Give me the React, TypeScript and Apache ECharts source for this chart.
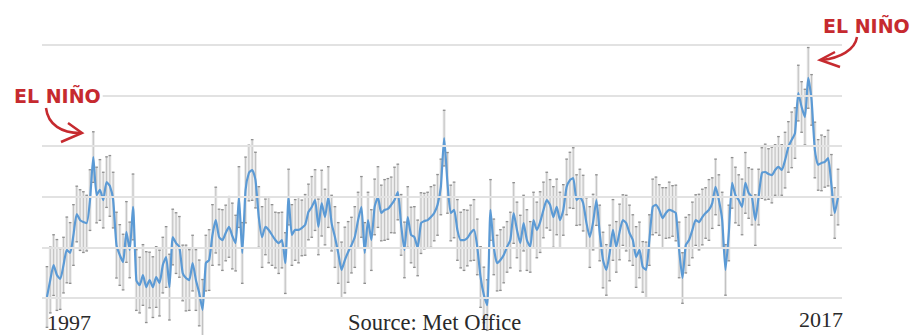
import React, { useEffect, useRef } from "react";
import * as echarts from "echarts";

// Monthly global temperature anomaly (°C), Jan 1997 .. Dec 2016
const anomaly: number[] = [
  0.204, 0.271, 0.330, 0.291, 0.275, 0.330, 0.390, 0.378, 0.449, 0.532, 0.508, 0.500,
  0.496, 0.587, 0.757, 0.607, 0.627, 0.587, 0.658, 0.643, 0.587, 0.409, 0.370, 0.342,
  0.461, 0.390, 0.560, 0.271, 0.251, 0.291, 0.243, 0.271, 0.243, 0.283, 0.259, 0.330,
  0.362, 0.243, 0.441, 0.417, 0.402, 0.299, 0.279, 0.271, 0.338, 0.271, 0.220, 0.153,
  0.338, 0.350, 0.449, 0.508, 0.441, 0.429, 0.457, 0.481, 0.445, 0.417, 0.599, 0.378,
  0.627, 0.694, 0.706, 0.666, 0.520, 0.441, 0.481, 0.469, 0.449, 0.429, 0.417, 0.429,
  0.338, 0.599, 0.449, 0.469, 0.469, 0.477, 0.489, 0.540, 0.560, 0.587, 0.481, 0.575,
  0.520, 0.599, 0.496, 0.441, 0.378, 0.311, 0.350, 0.382, 0.409, 0.441, 0.508, 0.560,
  0.378, 0.508, 0.429, 0.560, 0.599, 0.536, 0.548, 0.552, 0.568, 0.587, 0.619, 0.489,
  0.390, 0.520, 0.449, 0.441, 0.398, 0.496, 0.504, 0.508, 0.520, 0.536, 0.568, 0.639,
  0.832, 0.655, 0.536, 0.548, 0.469, 0.429, 0.429, 0.437, 0.457, 0.469, 0.402, 0.283,
  0.212, 0.172, 0.548, 0.402, 0.338, 0.350, 0.370, 0.402, 0.429, 0.536, 0.469, 0.417,
  0.496, 0.429, 0.402, 0.508, 0.469, 0.500, 0.548, 0.587, 0.568, 0.520, 0.560, 0.508,
  0.548, 0.639, 0.666, 0.674, 0.587, 0.599, 0.575, 0.496, 0.441, 0.500, 0.587, 0.457,
  0.350, 0.311, 0.378, 0.469, 0.402, 0.461, 0.508, 0.496, 0.457, 0.429, 0.362, 0.390,
  0.323, 0.311, 0.429, 0.560, 0.568, 0.548, 0.516, 0.536, 0.548, 0.544, 0.536, 0.390,
  0.279, 0.409, 0.429, 0.469, 0.508, 0.500, 0.520, 0.536, 0.548, 0.575, 0.639, 0.587,
  0.508, 0.311, 0.457, 0.655, 0.607, 0.587, 0.560, 0.655, 0.615, 0.599, 0.508, 0.599,
  0.694, 0.698, 0.690, 0.686, 0.706, 0.718, 0.706, 0.745, 0.797, 0.825, 0.852, 1.010,
  0.955, 0.915, 1.070, 0.983, 0.785, 0.726, 0.734, 0.738, 0.753, 0.647, 0.536, 0.599,
];

// Half-width of the uncertainty bar (°C) per month
const uncertainty: number[] = [
  0.12, 0.13, 0.12, 0.14, 0.12, 0.11, 0.13, 0.12, 0.12, 0.11, 0.12, 0.12,
  0.11, 0.12, 0.10, 0.11, 0.12, 0.11, 0.10, 0.12, 0.11, 0.13, 0.12, 0.11,
  0.12, 0.11, 0.13, 0.12, 0.11, 0.12, 0.14, 0.11, 0.12, 0.12, 0.13, 0.11,
  0.12, 0.13, 0.11, 0.12, 0.12, 0.11, 0.13, 0.12, 0.11, 0.12, 0.13, 0.12,
  0.11, 0.12, 0.12, 0.13, 0.11, 0.12, 0.11, 0.12, 0.13, 0.11, 0.12, 0.12,
  0.13, 0.11, 0.12, 0.11, 0.12, 0.12, 0.11, 0.13, 0.12, 0.11, 0.12, 0.11,
  0.12, 0.11, 0.12, 0.12, 0.13, 0.11, 0.12, 0.11, 0.12, 0.12, 0.11, 0.13,
  0.11, 0.12, 0.11, 0.12, 0.12, 0.11, 0.13, 0.12, 0.11, 0.12, 0.11, 0.12,
  0.12, 0.11, 0.12, 0.11, 0.12, 0.11, 0.12, 0.12, 0.11, 0.13, 0.11, 0.12,
  0.11, 0.12, 0.11, 0.12, 0.11, 0.12, 0.11, 0.11, 0.12, 0.11, 0.12, 0.11,
  0.11, 0.12, 0.11, 0.11, 0.12, 0.11, 0.12, 0.11, 0.11, 0.12, 0.11, 0.12,
  0.11, 0.10, 0.12, 0.11, 0.11, 0.12, 0.11, 0.10, 0.11, 0.12, 0.11, 0.11,
  0.11, 0.12, 0.10, 0.11, 0.11, 0.12, 0.11, 0.11, 0.10, 0.12, 0.11, 0.11,
  0.10, 0.11, 0.11, 0.12, 0.10, 0.11, 0.11, 0.10, 0.12, 0.11, 0.10, 0.11,
  0.11, 0.10, 0.11, 0.12, 0.10, 0.11, 0.10, 0.11, 0.11, 0.10, 0.12, 0.11,
  0.10, 0.11, 0.10, 0.11, 0.11, 0.10, 0.12, 0.10, 0.11, 0.10, 0.11, 0.11,
  0.10, 0.11, 0.10, 0.11, 0.10, 0.11, 0.11, 0.10, 0.12, 0.10, 0.11, 0.10,
  0.11, 0.10, 0.11, 0.10, 0.11, 0.10, 0.11, 0.12, 0.10, 0.11, 0.10, 0.11,
  0.10, 0.11, 0.10, 0.11, 0.10, 0.12, 0.10, 0.11, 0.10, 0.11, 0.10, 0.11,
  0.10, 0.11, 0.12, 0.10, 0.11, 0.10, 0.11, 0.10, 0.11, 0.12, 0.10, 0.11,
];

// Horizontal reference lines (°C)
const gridValues: number[] = [0.2, 0.4, 0.6, 0.8, 1.0, 1.2];
const yearLabels: string[] = ["1997", "2017"];
const sourceText = "Source: Met Office";
const annotationText = "EL NIÑO";

const RED = "#c62a2f";

export default function App() {
  const ref = useRef<HTMLDivElement>(null);

  useEffect(() => {
    if (!ref.current) return;
    const chart = echarts.init(ref.current, undefined, { renderer: "svg" });

    const lineData = anomaly.map((v, i) => [i, v]);
    const barData = anomaly.map((v, i) => [i, v - uncertainty[i], v + uncertainty[i]]);

    const serif = "'Liberation Serif', 'DejaVu Serif', serif";
    const hand = "'DejaVu Sans', 'Noto Sans', sans-serif";

    chart.setOption({
      animation: false,
      backgroundColor: "#ffffff",
      grid: { left: 42, right: 71, top: 0, bottom: 0 },
      xAxis: {
        type: "value",
        min: -1.5,
        max: 240.2,
        show: false,
        splitLine: { show: false },
      },
      yAxis: {
        type: "value",
        min: 0.05375,
        max: 1.37787,
        show: false,
        splitLine: { show: false },
      },
      series: [
        {
          type: "line",
          data: lineData,
          z: 1,
          symbol: "none",
          silent: true,
          lineStyle: { opacity: 0 },
          markLine: {
            silent: true,
            symbol: "none",
            label: { show: false },
            lineStyle: { color: "#e2e2e2", width: 2, type: "solid" },
            data: gridValues.map((v) => ({ yAxis: v })),
          },
        },
        {
          type: "custom",
          data: barData,
          z: 2,
          renderItem: (_params: any, api: any) => {
            const lo = api.coord([api.value(0), api.value(1)]);
            const hi = api.coord([api.value(0), api.value(2)]);
            const x = lo[0];
            return {
              type: "group",
              children: [
                {
                  type: "rect",
                  shape: { x: x - 1.5, y: hi[1], width: 3, height: lo[1] - hi[1] },
                  style: { fill: "#e8e8e8" },
                },
                {
                  type: "line",
                  shape: { x1: x, y1: hi[1], x2: x, y2: lo[1] },
                  style: { stroke: "#c2c2c2", lineWidth: 1 },
                },
                {
                  type: "line",
                  shape: { x1: x - 1.3, y1: hi[1], x2: x + 1.3, y2: hi[1] },
                  style: { stroke: "#8f8f8f", lineWidth: 1.3 },
                },
                {
                  type: "line",
                  shape: { x1: x - 1.3, y1: lo[1], x2: x + 1.3, y2: lo[1] },
                  style: { stroke: "#8f8f8f", lineWidth: 1.3 },
                },
              ],
            };
          },
        },
        {
          type: "line",
          data: lineData,
          z: 3,
          symbol: "none",
          smooth: 0.2,
          lineStyle: { color: "#5b9ad5", width: 2.2 },
        },
      ],
      graphic: [
        {
          type: "text",
          z: 10,
          style: {
            text: yearLabels[0], x: 47, y: 322, font: `22px ${serif}`,
            fill: "#2a2a2a", align: "left", verticalAlign: "middle",
          },
        },
        {
          type: "text",
          z: 10,
          style: {
            text: yearLabels[1], x: 843, y: 319, font: `22px ${serif}`,
            fill: "#2a2a2a", align: "right", verticalAlign: "middle",
          },
        },
        {
          type: "text",
          z: 10,
          style: {
            text: sourceText, x: 348, y: 322, font: `22.5px ${serif}`,
            fill: "#2a2a2a", align: "left", verticalAlign: "middle",
          },
        },
        {
          type: "text",
          z: 10,
          style: {
            text: annotationText, x: 12, y: 96, font: `bold 19px ${hand}`,
            fill: RED, align: "left", verticalAlign: "middle",
            backgroundColor: "#ffffff", padding: [3, 2, 3, 2],
          },
        },
        {
          type: "text",
          z: 10,
          style: {
            text: annotationText, x: 823, y: 26, font: `bold 19px ${hand}`,
            fill: RED, align: "left", verticalAlign: "middle",
          },
        },
        {
          type: "bezierCurve",
          z: 10,
          shape: { x1: 46, y1: 108, cpx1: 48, cpy1: 125, cpx2: 62, cpy2: 133, x2: 80, y2: 133 },
          style: { stroke: RED, lineWidth: 2.5, fill: "none" },
        },
        {
          type: "polyline",
          z: 10,
          shape: { points: [[68, 123], [82, 133], [61, 142]] },
          style: { stroke: RED, lineWidth: 2.5, fill: "none" },
        },
        {
          type: "bezierCurve",
          z: 10,
          shape: { x1: 857, y1: 37, cpx1: 855, cpy1: 50, cpx2: 840, cpy2: 58, x2: 822, y2: 60 },
          style: { stroke: RED, lineWidth: 2.5, fill: "none" },
        },
        {
          type: "polyline",
          z: 10,
          shape: { points: [[835, 52], [820, 60], [840, 67]] },
          style: { stroke: RED, lineWidth: 2.5, fill: "none" },
        },
      ],
    });

    return () => chart.dispose();
  }, []);

  return (
    <div
      ref={ref}
      style={{ position: "fixed", left: 0, top: 0, width: 913, height: 335 }}
    />
  );
}
